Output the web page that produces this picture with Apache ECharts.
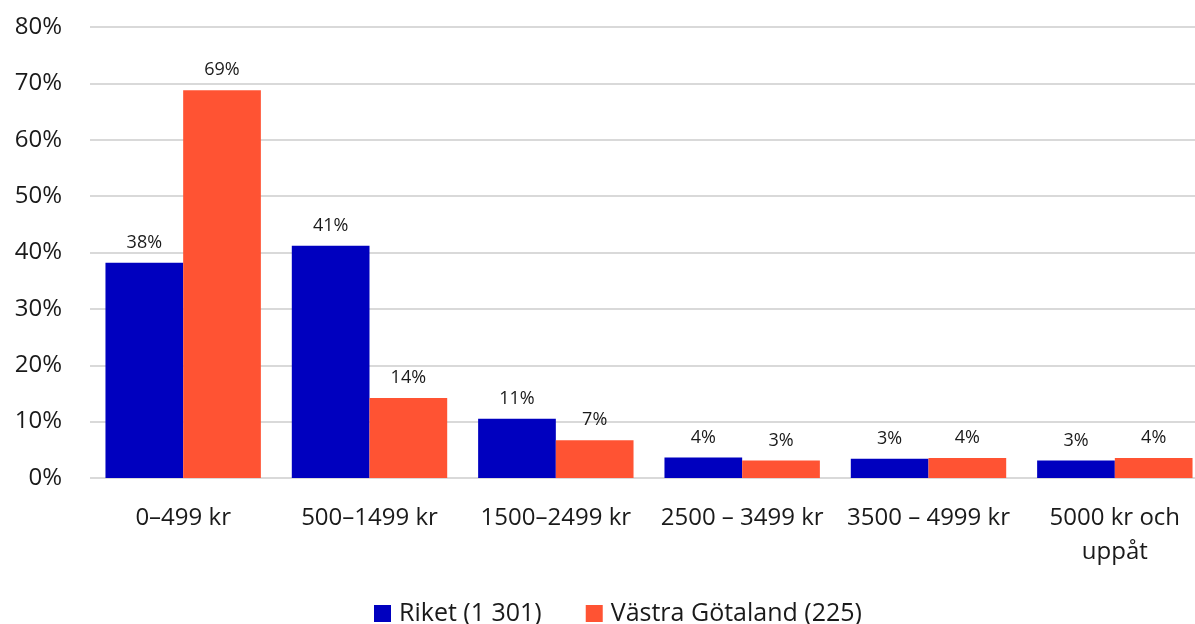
<!DOCTYPE html>
<html>
<head>
<meta charset="utf-8">
<script src="https://cdn.jsdelivr.net/npm/echarts@6/dist/echarts.min.js"></script>
<style>
    html, body { margin: 0; padding: 0; background: #fff; }
    #chart { width: 1195px; height: 624px; }
</style>
</head>
<body>
<div id="chart"></div>
<script>
var categories = ['0–499 kr', '500–1499 kr', '1500–2499 kr', '2500 – 3499 kr', '3500 – 4999 kr', '5000 kr och\nuppåt'];
var riket = [38.2, 41.2, 10.5, 3.65, 3.4, 3.1];
var vastra = [68.8, 14.2, 6.7, 3.1, 3.55, 3.55];
var seriesNames = ['Riket (1 301)', 'Västra Götaland (225)'];
var yTicks = { min: 0, max: 80, interval: 10 };

var font = '"Open Sans", "Noto Sans", sans-serif';

function labelOpt() {
    return {
        show: true,
        position: 'top',
        distance: 11,
        fontFamily: font,
        fontSize: 18,
        color: '#1a1a1a',
        formatter: function (p) { return Math.round(p.value) + '%'; }
    };
}

var chart = echarts.init(document.getElementById('chart'));
chart.setOption({
    animation: false,
    textStyle: { fontFamily: font },
    // plot runs past the right edge, last bar is clipped like in the original
    grid: { left: 90, width: 1118, top: 27, bottom: 146, outerBoundsMode: 'none', containLabel: false },
    legend: {
        data: seriesNames,
        top: 596,
        left: 369,
        icon: 'rect',
        itemWidth: 17,
        itemHeight: 17,
        itemGap: 44,
        textStyle: { fontFamily: font, fontSize: 25, color: '#1a1a1a', padding: [0, 0, 0, 3] }
    },
    xAxis: {
        type: 'category',
        data: categories,
        axisLine: { show: false },
        axisTick: { show: false },
        axisLabel: {
            interval: 0,
            margin: 23,
            fontFamily: font,
            fontSize: 24,
            lineHeight: 34,
            color: '#1a1a1a'
        }
    },
    yAxis: {
        type: 'value',
        min: yTicks.min,
        max: yTicks.max,
        interval: yTicks.interval,
        axisLine: { show: false },
        axisTick: { show: false },
        axisLabel: {
            margin: 28,
            fontFamily: font,
            fontSize: 24,
            color: '#1a1a1a',
            formatter: '{value}%'
        },
        splitLine: { lineStyle: { color: '#d9d9d9', width: 2 } }
    },
    series: [
        {
            name: seriesNames[0],
            type: 'bar',
            data: riket,
            barGap: '0%',
            barCategoryGap: '16.6%',
            itemStyle: { color: '#0000bf' },
            label: labelOpt()
        },
        {
            name: seriesNames[1],
            type: 'bar',
            data: vastra,
            barGap: '0%',
            barCategoryGap: '16.6%',
            itemStyle: { color: '#ff5333' },
            label: labelOpt()
        }
    ]
});
</script>
</body>
</html>
